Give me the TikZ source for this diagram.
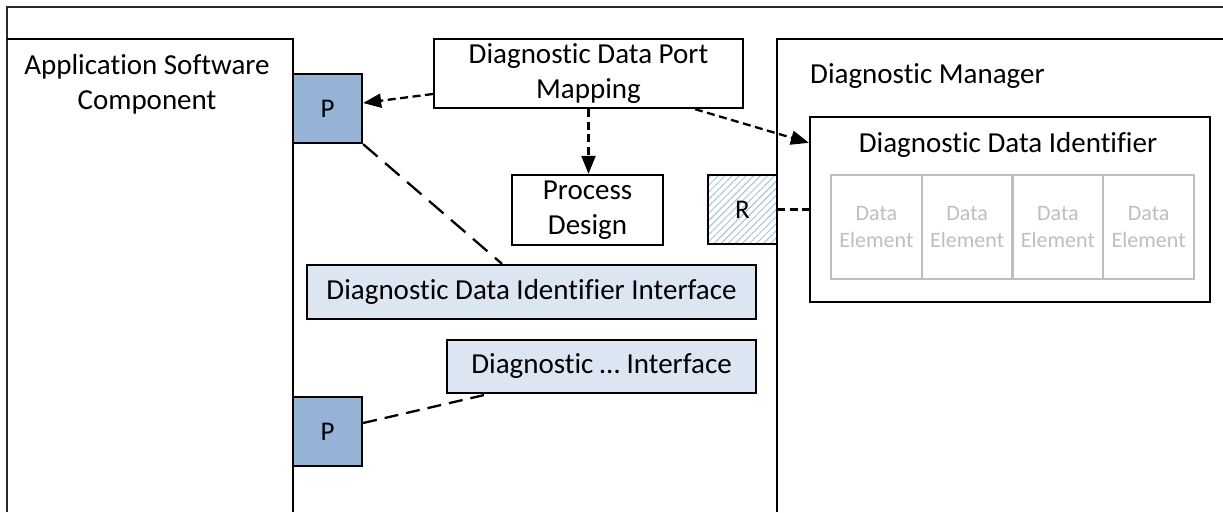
\documentclass[tikz,border=0pt]{standalone}
\usepackage{fontspec}
\setmainfont{Carlito}[RawFeature=-liga]
\usetikzlibrary{arrows.meta,patterns.meta,calc}
\definecolor{pblue}{RGB}{149,179,215}
\definecolor{ifblue}{RGB}{220,230,242}
\definecolor{hatchblue}{RGB}{150,185,225}
\definecolor{elgray}{RGB}{191,191,191}
\definecolor{framegray}{RGB}{40,40,40}
\tikzset{
 box/.style={draw=black, line width=2.3pt, inner sep=0pt, font=\fontsize{29}{35}\selectfont, align=center},
 port/.style={box, fill=pblue, minimum width=69pt, minimum height=69pt, font=\fontsize{27}{32}\selectfont},
 iface/.style={box, fill=ifblue},
 elem/.style={draw=elgray, line width=2.2pt, minimum width=90.75pt, minimum height=104pt, inner sep=0pt, text=elgray, font=\fontsize{22}{27}\selectfont, align=center},
 lbl/.style={inner sep=0pt, font=\fontsize{29}{35}\selectfont, align=center},
 container/.style={line width=2.3pt, draw=black},
 frameline/.style={line width=1.2pt, draw=framegray},
 conn/.style={line width=2.3pt, dash pattern=on 8pt off 4.5pt},
 arr/.style={conn, -{Triangle[length=18pt,width=14pt]}},
 longdash/.style={line width=2.3pt, dash pattern=on 19pt off 10pt},
 middash/.style={line width=2.3pt, dash pattern=on 14pt off 8pt},
}
\begin{document}
\begin{tikzpicture}[x=1pt,y=-1pt]
\useasboundingbox (0,0) rectangle (1223,512);
\fill[white] (0,0) rectangle (1223,512);
% outer frame
\draw[frameline] (7,512) -- (7,7) -- (1223,7);
% containers
\draw[container] (7,39) -- (293,39) -- (293,512);
\draw[container] (777,512) -- (777,39) -- (1223,39);
\node[lbl, anchor=north] (asc) at (147,54) {Application Software\\Component};
\node[lbl, anchor=base west] (dm) at (810,83) {Diagnostic Manager};
% boxes
\node[box, minimum width=309pt, minimum height=69pt] (ddpm) at (588.5,73.5) {Diagnostic Data Port\\Mapping};
\node[box, minimum width=151pt, minimum height=70pt] (pd) at (587.5,210) {Process\\Design};
\node[port] (p1) at (327.5,108.5) {P};
\node[port] (p2) at (327.5,431.5) {P};
\node[port, fill=white, pattern={Lines[angle=45,distance=5pt,line width=0.8pt]}, pattern color=hatchblue] (r) at (742.5,209.5) {};
\node[font=\fontsize{27}{32}\selectfont, inner sep=0pt] (rtext) at (742.5,209.5) {R};
\node[box, minimum width=400pt, minimum height=185pt] (ddi) at (1010,209.5) {};
\node[lbl, anchor=base] (ddititle) at (1008,152) {Diagnostic Data Identifier};
\node[elem] (de1) at (876.375,227) {Data\\Element};
\node[elem] (de2) at (967.125,227) {Data\\Element};
\node[elem] (de3) at (1057.875,227) {Data\\Element};
\node[elem] (de4) at (1148.625,227) {Data\\Element};
\node[iface, minimum width=449pt, minimum height=54pt] (ddii) at (531.5,292) {Diagnostic Data Identifier Interface};
\node[iface, minimum width=309pt, minimum height=53pt] (di) at (601.5,366.5) {Diagnostic … Interface};
% connectors
\draw[arr] ([yshift=-20.5pt]ddpm.west) -- ([yshift=5.5pt]p1.east);
\draw[arr] (ddpm.south) -- (ddpm.south |- pd.north);
\draw[arr] ([xshift=106.5pt]ddpm.south) -- ([yshift=-27pt]ddi.north west);
\draw[conn] (r.east) -- (ddi.west);
\draw[longdash] (p1.south east) -- ([xshift=-29.5pt]ddii.north);
\draw[middash] ([yshift=8.5pt]p2.east) -- ([xshift=-113.5pt]di.south);
\end{tikzpicture}
\end{document}
